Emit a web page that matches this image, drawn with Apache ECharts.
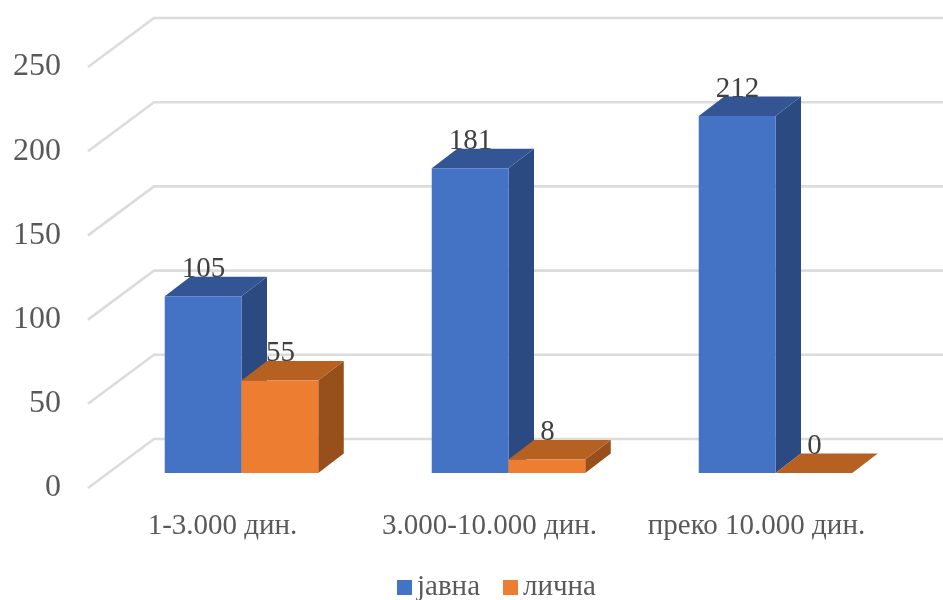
<!DOCTYPE html>
<html><head><meta charset="utf-8">
<style>html,body{margin:0;padding:0;background:#fff}#c{width:943px;height:600px}</style>
<script src="https://cdn.jsdelivr.net/npm/echarts@6/dist/echarts.min.js"></script>
</head><body><div id="c"></div>
<script>
const categories = ['1-3.000 дин.', '3.000-10.000 дин.', 'преко 10.000 дин.'];
const javna = [105, 181, 212];
const licna = [55, 8, 0];
const yTicks = [0, 50, 100, 150, 200, 250];
const seriesNames = ['јавна', 'лична'];

const FONT = '"Liberation Serif","Times New Roman",serif';
const WALL = [66, -49];
const BAR_OFFSET = [19, -15];
const DEPTH = [25.5, -19.5];
const BAR_BAND = 0.2875;

const palette = [
  { front: '#4472C4', top: '#335593', side: '#2B4A81' },
  { front: '#ED7D31', top: '#B66022', side: '#974F1C' }
];

function barRenderer(seriesIdx) {
  const c = palette[seriesIdx];
  return function (params, api) {
    const idx = api.value(0), val = api.value(1);
    const w = api.size([1, 0])[0] * BAR_BAND;
    const base = api.coord([idx, 0]);
    const topP = api.coord([idx, val]);
    const cx = base[0] + BAR_OFFSET[0];
    const x0 = cx + (seriesIdx === 0 ? -w : 0);
    const x1 = x0 + w;
    const yb = base[1] + BAR_OFFSET[1];
    const yt = topP[1] + BAR_OFFSET[1];
    const dx = DEPTH[0], dy = DEPTH[1];
    const poly = (pts, fill) => ({ type: 'polygon', shape: { points: pts }, style: { fill: fill }, z2: 1 });
    const kids = [];
    kids.push(poly([[x1, yb], [x1 + dx, yb + dy], [x1 + dx, yt + dy], [x1, yt]], c.side));
    kids.push(poly([[x0, yt], [x1, yt], [x1 + dx, yt + dy], [x0 + dx, yt + dy]], c.top));
    if (yb - yt > 0) kids.push(poly([[x0, yb], [x1, yb], [x1, yt], [x0, yt]], c.front));
    kids.push({
      type: 'text', z2: 10,
      style: {
        x: (x0 + x1) / 2 + 0.5, y: yt - 27, text: String(val), fill: '#404040',
        font: '29px ' + FONT, textAlign: 'center', textVerticalAlign: 'middle'
      }
    });
    return { type: 'group', children: kids };
  };
}

function wallRenderer(params, api) {
  const cs = params.coordSys;
  const y = api.coord([0, api.value(0)])[1];
  const x = cs.x - 1;
  return {
    type: 'polyline',
    shape: { points: [[x, y], [x + WALL[0], y + WALL[1]], [x + cs.width + WALL[0], y + WALL[1]]] },
    style: { stroke: '#DCDCDC', lineWidth: 2.6, fill: null }
  };
}

const chart = echarts.init(document.getElementById('c'), null, { renderer: 'canvas' });
chart.setOption({
  animation: false,
  backgroundColor: '#fff',
  grid: { left: 89, right: 53, top: 67, bottom: 112, containLabel: false },
  xAxis: {
    type: 'category', data: categories,
    axisLine: { show: false }, axisTick: { show: false }, splitLine: { show: false },
    axisLabel: { interval: 0, margin: 24, color: '#595959', fontFamily: FONT, fontSize: 29 }
  },
  yAxis: {
    type: 'value', min: 0, max: 250, interval: 50,
    axisLine: { show: false }, axisTick: { show: false }, splitLine: { show: false },
    axisLabel: { margin: 28, color: '#595959', fontFamily: FONT, fontSize: 32 }
  },
  legend: {
    data: seriesNames, top: 568, left: 392, icon: 'rect',
    itemWidth: 15, itemHeight: 15, itemGap: 23,
    textStyle: { color: '#595959', fontFamily: FONT, fontSize: 29 }
  },
  series: [
    {
      type: 'custom', name: 'wall', silent: true, z: 1, clip: false,
      encode: { y: 0 }, data: yTicks.map(v => [v]), renderItem: wallRenderer
    },
    {
      type: 'custom', name: seriesNames[0], z: 2, clip: false,
      itemStyle: { color: palette[0].front }, encode: { x: 0, y: 1 },
      data: javna.map((v, i) => [i, v]), renderItem: barRenderer(0)
    },
    {
      type: 'custom', name: seriesNames[1], z: 3, clip: false,
      itemStyle: { color: palette[1].front }, encode: { x: 0, y: 1 },
      data: licna.map((v, i) => [i, v]), renderItem: barRenderer(1)
    }
  ]
});
</script></body></html>
